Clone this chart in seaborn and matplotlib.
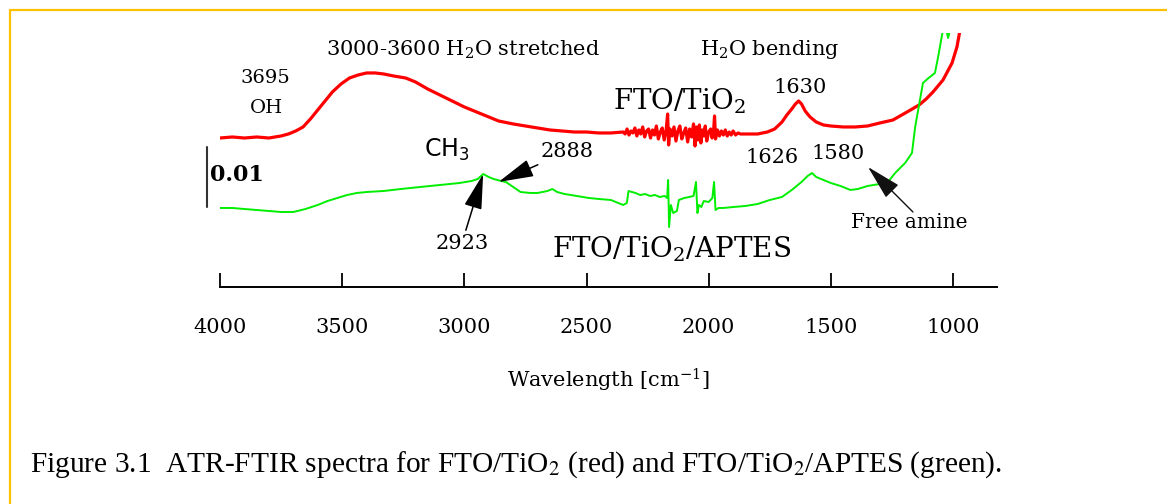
import matplotlib
matplotlib.use("Agg")
import matplotlib.pyplot as plt
from matplotlib.lines import Line2D
import seaborn as sns
import pandas as pd

# ---------------- data (wavenumber cm^-1, absorbance) ----------------
RED_CM = [4000, 3950, 3900, 3850, 3800, 3750, 3720, 3690, 3660, 3630, 3600, 3570, 3540, 3505,
          3470, 3435, 3400, 3365, 3330, 3290, 3240, 3200, 3150, 3100, 3050, 3000, 2950, 2900,
          2860, 2800, 2750, 2700, 2650, 2600, 2550, 2500, 2450, 2400,
          2350, 2342, 2334, 2326, 2318, 2310, 2302, 2294, 2286, 2278, 2270, 2262, 2254, 2246,
          2238, 2230, 2222, 2214, 2206, 2198, 2190, 2182, 2174, 2168, 2164, 2158, 2150, 2142,
          2134, 2126, 2118, 2110, 2102, 2094, 2086, 2078, 2070, 2062, 2056, 2050, 2044, 2038,
          2032, 2026, 2020, 2014, 2008, 2000, 1992, 1986, 1980, 1976, 1972, 1964, 1956, 1948,
          1940, 1932, 1924, 1916, 1908, 1900, 1890, 1880, 1870,
          1840, 1800, 1760, 1730, 1700, 1680, 1660, 1645, 1632,
          1620, 1605, 1585, 1560, 1530, 1500, 1450, 1400, 1350, 1300, 1246, 1188, 1139, 1110,
          1082, 1041, 1004, 984, 975, 965]
RED_ABS = [0.02483, 0.02500, 0.02483, 0.02500, 0.02483, 0.02517, 0.02550, 0.02600, 0.02667,
           0.02800, 0.02950, 0.03100, 0.03250, 0.03383, 0.03483, 0.03533, 0.03567, 0.03567,
           0.03550, 0.03517, 0.03483, 0.03417, 0.03300, 0.03200, 0.03100, 0.03000, 0.02917,
           0.02833, 0.02767, 0.02717, 0.02683, 0.02650, 0.02617, 0.02600, 0.02583, 0.02583,
           0.02567, 0.02567,
           0.02583, 0.02550, 0.02633, 0.02533, 0.02600, 0.02567, 0.02650, 0.02517, 0.02617,
           0.02550, 0.02667, 0.02500, 0.02600, 0.02633, 0.02483, 0.02617, 0.02533, 0.02683,
           0.02467, 0.02583, 0.02650, 0.02450, 0.02617, 0.02883, 0.02367, 0.02633, 0.02517,
           0.02667, 0.02433, 0.02600, 0.02683, 0.02467, 0.02567, 0.02650, 0.02417, 0.02633,
           0.02500, 0.02717, 0.02350, 0.02667, 0.02450, 0.02700, 0.02400, 0.02617, 0.02517,
           0.02683, 0.02433, 0.02583, 0.02633, 0.02483, 0.02600, 0.02850, 0.02467, 0.02617,
           0.02517, 0.02600, 0.02533, 0.02617, 0.02517, 0.02583, 0.02533, 0.02600, 0.02533,
           0.02567, 0.02550,
           0.02550, 0.02550, 0.02583, 0.02633, 0.02750, 0.02867, 0.02967, 0.03050, 0.03100,
           0.03050, 0.02933, 0.02833, 0.02750, 0.02700, 0.02683, 0.02667, 0.02667, 0.02683,
           0.02733, 0.02783, 0.02917, 0.03033, 0.03133, 0.03250, 0.03450, 0.03733, 0.04000,
           0.04200, 0.04450]

GREEN_CM = [4000, 3950, 3900, 3850, 3800, 3750, 3700, 3650, 3600, 3560, 3520, 3480, 3440, 3400,
            3330, 3260, 3180, 3100, 3020, 2970, 2945, 2923, 2900, 2880, 2850, 2830, 2800, 2770,
            2730, 2700, 2660, 2640, 2620, 2590, 2540, 2490, 2450, 2400, 2370, 2350, 2335, 2328,
            2300, 2280, 2260, 2240, 2220, 2200, 2180, 2170, 2166, 2162, 2155, 2145, 2130, 2122,
            2100, 2080, 2062, 2052, 2046, 2040, 2030, 2020, 2000, 1985, 1978, 1972, 1960, 1940,
            1900, 1850, 1800, 1750, 1700, 1660, 1620, 1595, 1577, 1560, 1530, 1500, 1460, 1420,
            1390, 1350, 1300, 1266, 1237, 1196, 1168, 1155, 1139, 1123, 1100, 1074, 1061, 1045,
            1035, 1020, 1005, 995]
GREEN_ABS = [0.01317, 0.01317, 0.01300, 0.01283, 0.01267, 0.01250, 0.01250, 0.01300, 0.01367,
             0.01433, 0.01483, 0.01533, 0.01567, 0.01583, 0.01600, 0.01633, 0.01667, 0.01700,
             0.01733, 0.01767, 0.01800, 0.01883, 0.01833, 0.01800, 0.01767, 0.01750, 0.01667,
             0.01583, 0.01567, 0.01567, 0.01600, 0.01633, 0.01583, 0.01550, 0.01517, 0.01483,
             0.01467, 0.01450, 0.01400, 0.01367, 0.01400, 0.01600, 0.01567, 0.01533, 0.01550,
             0.01517, 0.01533, 0.01500, 0.01517, 0.01483, 0.01783, 0.01000, 0.01367, 0.01233,
             0.01267, 0.01450, 0.01483, 0.01500, 0.01517, 0.01750, 0.01233, 0.01367, 0.01333,
             0.01433, 0.01417, 0.01483, 0.01750, 0.01283, 0.01317, 0.01317, 0.01333, 0.01350,
             0.01383, 0.01450, 0.01500, 0.01617, 0.01750, 0.01850, 0.01900, 0.01833, 0.01783,
             0.01733, 0.01683, 0.01617, 0.01633, 0.01683, 0.01717, 0.01750, 0.01900, 0.02067,
             0.02233, 0.02667, 0.03033, 0.03400, 0.03483, 0.03567, 0.03833, 0.04200, 0.04417,
             0.04150, 0.04417, 0.04617]

X_TICKS = [4000, 3500, 3000, 2500, 2000, 1500, 1000]
X_LIMITS = (4000, 820)
Y_LIMITS = (0, 0.04233)
SCALE_BAR = 0.01

RED = "#ff0000"
GREEN = "#00ee00"
GOLD = "#ffc000"

sns.set_style("white")
plt.rcParams["font.family"] = ["DejaVu Serif"]
plt.rcParams["text.color"] = "black"
plt.rcParams["axes.labelcolor"] = "black"
plt.rcParams["xtick.color"] = "black"

W, H = 1167, 504
fig = plt.figure(figsize=(W / 100, H / 100), dpi=100)
fig.patch.set_facecolor("white")
ax = fig.add_axes([220 / W, 217 / H, 777 / W, 254 / H])
ax.set_facecolor("none")

df_red = pd.DataFrame({"cm": RED_CM, "absorbance": RED_ABS})
df_green = pd.DataFrame({"cm": GREEN_CM, "absorbance": GREEN_ABS})
sns.lineplot(data=df_red, x="cm", y="absorbance", color=RED, lw=2.3, estimator=None,
             sort=False, ax=ax)
sns.lineplot(data=df_green, x="cm", y="absorbance", color=GREEN, lw=1.4, estimator=None,
             sort=False, ax=ax)

ax.set_xlim(*X_LIMITS)
ax.set_ylim(*Y_LIMITS)
for s in ["left", "right", "top"]:
    ax.spines[s].set_visible(False)
ax.spines["bottom"].set_color("black")
ax.spines["bottom"].set_linewidth(1.4)
ax.set_yticks([])
ax.set_xticks(X_TICKS)
ax.set_xticklabels([str(t) for t in X_TICKS])
ax.tick_params(axis="x", bottom=True, direction="in", length=10, width=1.3, pad=22,
               labelsize=15, colors="black")
ax.set_xlabel("Wavelength [cm$^{-1}$]", fontsize=15, labelpad=22, color="black",
              math_fontfamily="dejavuserif")
ax.set_ylabel("")

txt = dict(ha="center", va="center", color="black", math_fontfamily="dejavuserif")
ax.text(3816, 0.03483, "3695", fontsize=14, **txt)
ax.text(3808, 0.02983, "OH", fontsize=14, **txt)
ax.text(3005, 0.0395, "3000-3600 H$_2$O stretched", fontsize=15, **txt)
ax.text(1749, 0.0395, "H$_2$O bending", fontsize=15, **txt)
ax.text(2120, 0.0310, "FTO/TiO$_2$", fontsize=20, **txt)
ax.text(1626, 0.03317, "1630", fontsize=15, **txt)
ax.text(3071, 0.02283, "CH$_3$", fontsize=17, family="DejaVu Sans", ha="center", va="center",
        color="black", math_fontfamily="dejavusans")
ax.text(1741, 0.0215, "1626", fontsize=15, **txt)
ax.text(1471, 0.02233, "1580", fontsize=15, **txt)
ax.text(2150, 0.0063, "FTO/TiO$_2$/APTES", fontsize=20, **txt)

arrow = dict(arrowstyle="-|>,head_length=1.1,head_width=0.28", color="black", lw=1.1,
             shrinkA=0, shrinkB=0, mutation_scale=20)
ax.annotate("2888", xy=(2860, 0.0175), xytext=(2580, 0.0225), fontsize=15, ha="center",
            va="center", color="black", arrowprops=arrow, annotation_clip=False)
ax.annotate("2923", xy=(2923, 0.01883), xytext=(3010, 0.00733), fontsize=15, ha="center",
            va="center", color="black", arrowprops=arrow, annotation_clip=False)
ax.annotate("", xy=(1348, 0.0200), xytext=(1164, 0.0125),
            arrowprops=dict(arrow, lw=1.0, color="#111111"), annotation_clip=False)
ax.text(1180, 0.01083, "Free amine", fontsize=14.5, **txt)

# scale bar
ax.plot([4053, 4053], [0.0133, 0.0133 + SCALE_BAR], color="#333333", lw=1.5, clip_on=False)
ax.text(4040, 0.0186, "0.01", fontsize=16, fontweight="bold", ha="left", va="center",
        color="black")

# caption
fig.text(30 / W, (H - 465) / H,
         "Figure 3.1  ATR-FTIR spectra for FTO/TiO$_2$ (red) and FTO/TiO$_2$/APTES (green).",
         fontsize=21.2, family="Liberation Serif", math_fontfamily="stix", ha="left",
         va="center", color="black")

# gold frame (top and left)
fig.add_artist(Line2D([10 / W, 1], [(H - 10) / H] * 2, color=GOLD, lw=1.6,
                      transform=fig.transFigure))
fig.add_artist(Line2D([10 / W] * 2, [0, (H - 10) / H], color=GOLD, lw=1.6,
                      transform=fig.transFigure))

fig.savefig("out.png", dpi=100)
